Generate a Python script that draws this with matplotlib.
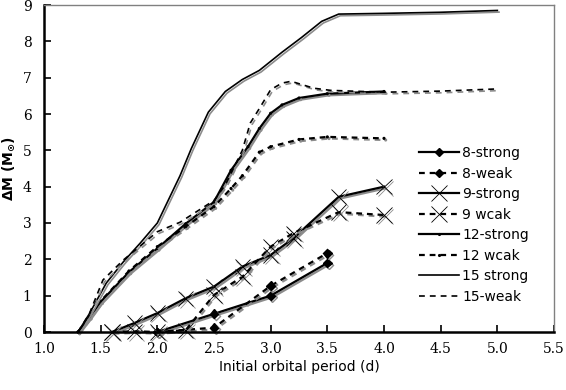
import numpy as np
import matplotlib
matplotlib.use("Agg")
import matplotlib.pyplot as plt
import matplotlib.patheffects as pe
from matplotlib.lines import Line2D

plt.rcParams['font.family'] = 'DejaVu Sans'

# ---- data ----
p8s = [2.0, 2.5, 3.0, 3.5]
m8s = [0.0, 0.5, 1.0, 1.9]

p8w = [2.0, 2.5, 3.0, 3.5]
m8w = [0.0, 0.12, 1.27, 2.17]

p9s = [1.6, 1.8, 2.0, 2.25, 2.5, 2.75, 3.0, 3.2, 3.6, 4.0]
m9s = [0.0, 0.25, 0.52, 0.93, 1.25, 1.8, 2.12, 2.58, 3.72, 4.0]

p9w = [1.6, 1.8, 2.0, 2.25, 2.5, 2.75, 3.0, 3.2, 3.6, 4.0]
m9w = [0.0, 0.02, 0.0, 0.05, 1.02, 1.52, 2.35, 2.72, 3.3, 3.22]

p12s = [1.3, 1.4, 1.5, 1.75, 2.0, 2.25, 2.5, 2.65, 2.8, 2.9, 3.0, 3.1, 3.25, 3.5, 4.0]
m12s = [0.0, 0.4, 0.83, 1.65, 2.3, 2.98, 3.58, 4.45, 5.1, 5.6, 6.02, 6.25, 6.44, 6.56, 6.62]

p12w = [1.3, 1.4, 1.5, 1.75, 2.0, 2.25, 2.5, 2.65, 2.75, 2.9, 3.0, 3.25, 3.5, 4.0]
m12w = [0.0, 0.42, 0.85, 1.68, 2.35, 2.9, 3.45, 3.95, 4.3, 4.95, 5.1, 5.3, 5.37, 5.33]

p15s = [1.3, 1.4, 1.55, 1.7, 1.85, 2.0, 2.1, 2.2, 2.3, 2.45, 2.6, 2.75, 2.9,
        3.1, 3.27, 3.45, 3.6, 4.0, 4.5, 5.0]
m15s = [0.0, 0.5, 1.35, 1.93, 2.45, 3.0, 3.65, 4.3, 5.05, 6.05, 6.62, 6.95, 7.2,
        7.7, 8.1, 8.55, 8.75, 8.77, 8.8, 8.85]

p15w = [1.3, 1.4, 1.52, 1.7, 2.0, 2.2, 2.5, 2.6, 2.75, 2.82, 2.91, 3.0, 3.1, 3.18,
        3.38, 3.53, 4.0, 4.5, 5.0]
m15w = [0.0, 0.5, 1.43, 1.98, 2.76, 3.02, 3.62, 4.05, 5.0, 5.75, 6.2, 6.67, 6.85, 6.9,
        6.71, 6.65, 6.6, 6.63, 6.69]

labels = ['8-strong', '8-weak', '9-strong', '9 wcak',
          '12-strong', '12 wcak', '15 strong', '15-weak']

xticks = [1.0, 1.5, 2.0, 2.5, 3.0, 3.5, 4.0, 4.5, 5.0, 5.5]
yticks = [0, 1, 2, 3, 4, 5, 6, 7, 8, 9]

# ---- figure ----
fig = plt.figure(figsize=(5.66, 3.90), dpi=100)
ax = fig.add_axes((44/566, 58/390, 510/566, 327/390))

shadow = [pe.SimpleLineShadow(offset=(1.2, -1.2), shadow_color='#8c8c8c', alpha=1.0),
          pe.Normal()]
dash = (0, (2.6, 2.2))
thin_dash = (0, (3.5, 3.0))

series = [
    (p8s, m8s, dict(ls='-', lw=1.6, marker='D', ms=4.5)),
    (p8w, m8w, dict(ls=dash, lw=1.6, marker='D', ms=4.5)),
    (p9s, m9s, dict(ls='-', lw=1.6, marker='x', ms=11, mew=0.6)),
    (p9w, m9w, dict(ls=dash, lw=1.6, marker='x', ms=11, mew=0.6)),
    (p12s, m12s, dict(ls='-', lw=1.6, marker='.', ms=2.5)),
    (p12w, m12w, dict(ls=dash, lw=1.6, marker='.', ms=2.5)),
    (p15s, m15s, dict(ls='-', lw=1.2)),
    (p15w, m15w, dict(ls=thin_dash, lw=1.2)),
]

for (x, y, kw), lab in zip(series, labels):
    ax.plot(x, y, color='black', mfc='black', mec='black', label=lab,
            path_effects=shadow, clip_on=False, **kw)

ax.set_xlim(1.0, 5.5)
ax.set_ylim(0, 9)
ax.set_xticks(xticks)
ax.set_xticklabels(['%.1f' % t for t in xticks], family='DejaVu Serif', fontsize=10)
ax.set_yticks(yticks)
ax.set_yticklabels([str(t) for t in yticks], family='DejaVu Serif', fontsize=10)
ax.tick_params(direction='in', length=5, width=1.2, color='black')
ax.tick_params(axis='x', pad=7)
ax.tick_params(axis='y', pad=9)

for s in ['left', 'bottom']:
    ax.spines[s].set_linewidth(1.8)
    ax.spines[s].set_color('black')
for s in ['top', 'right']:
    ax.spines[s].set_linewidth(1.0)
    ax.spines[s].set_color('#808080')

ax.set_xlabel('Initial orbital period (d)', fontsize=10, labelpad=3)
ax.set_ylabel(r'$\mathbf{\Delta M\ (M_{\odot})}$', fontsize=10, labelpad=4)

leg = ax.legend(loc='upper left', bbox_to_anchor=(419/566, 1 - 146/390),
                bbox_transform=fig.transFigure, frameon=False, fontsize=10,
                handlelength=2.9, handletextpad=0.2, labelspacing=0.47,
                borderpad=0, borderaxespad=0)
for ln in leg.findobj(Line2D):
    ln.set_path_effects([])

fig.savefig('out.png', dpi=100)
